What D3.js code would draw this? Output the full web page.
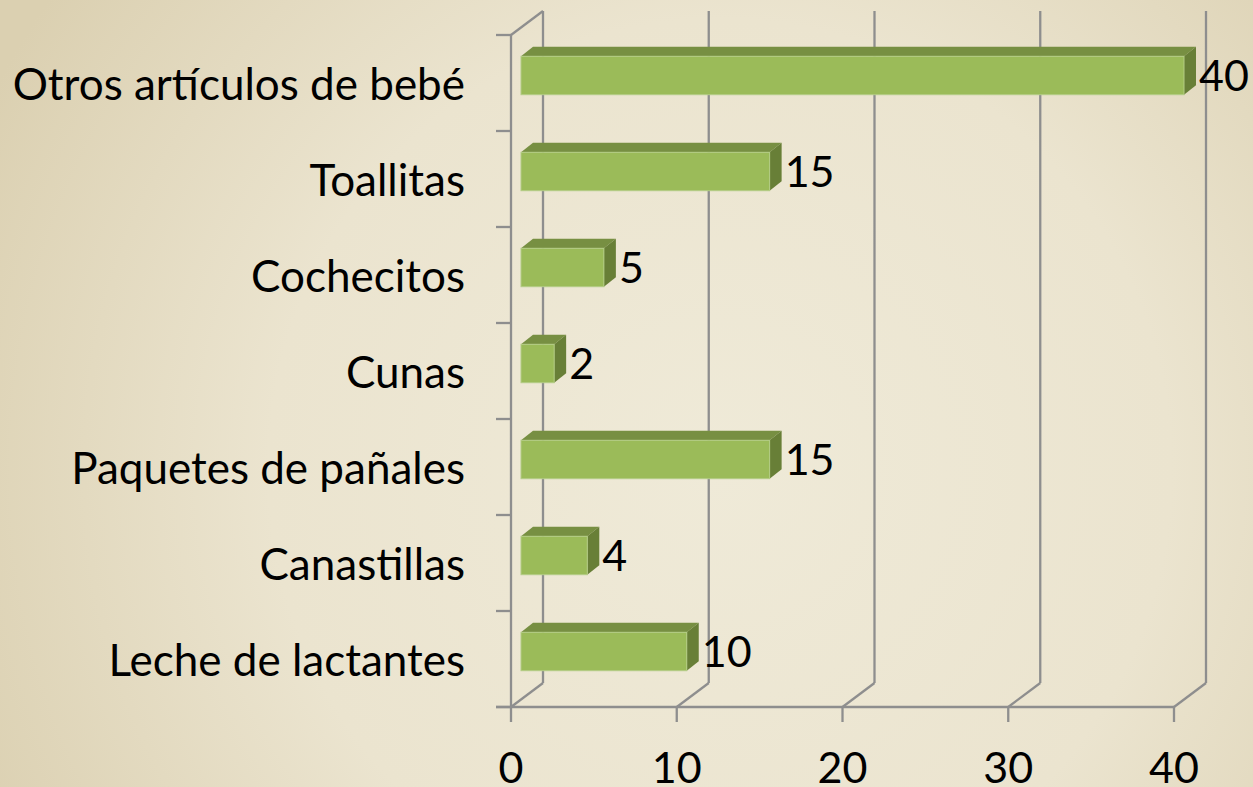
<!DOCTYPE html>
<html>
<head>
<meta charset="utf-8">
<script src="https://cdn.jsdelivr.net/npm/d3@7"></script>
<style>
  html, body { margin: 0; padding: 0; overflow: hidden; }
  #chart { width: 1253px; height: 787px; }
</style>
</head>
<body>
<div id="chart"></div>
<script>
// data, bottom to top as in the source chart
const categories = ["Leche de lactantes", "Canastillas", "Paquetes de pañales", "Cunas", "Cochecitos", "Toallitas", "Otros artículos de bebé"];
const values = [10, 4, 15, 2, 5, 15, 40];
const xTicks = [0, 10, 20, 30, 40];

const W = 1253, H = 787;
const FONT = "Lato, 'Open Sans', sans-serif";

// wall depth (3d offset of the back plane)
const depth = { dx: 32, dy: -24 };
// bar sits in the middle of the depth
const barOff = { dx: 10, dy: -7.5 };
const barDepth = { dx: 12, dy: -9.5 };

const svg = d3.select("#chart").append("svg")
  .attr("width", W)
  .attr("height", H);

// background
const defs = svg.append("defs");
const bg = defs.append("radialGradient")
  .attr("id", "bg")
  .attr("gradientUnits", "userSpaceOnUse")
  .attr("cx", 720).attr("cy", 470).attr("r", 820);
bg.append("stop").attr("offset", "0%").attr("stop-color", "#efead8");
bg.append("stop").attr("offset", "55%").attr("stop-color", "#ebe4cf");
bg.append("stop").attr("offset", "100%").attr("stop-color", "#dbd0b1");
svg.append("rect").attr("width", W).attr("height", H).attr("fill", "url(#bg)");

const x = d3.scaleLinear().domain([0, 40]).range([511, 1174]);
const y = d3.scaleBand()
  .domain(categories.slice().reverse())
  .range([35, 707])
  .paddingInner(0).paddingOuter(0);

const yTop = y.range()[0], yBot = y.range()[1];
const gridColor = "#8e8e8e";
const gw = 2.3;

const grid = svg.append("g")
  .attr("stroke", gridColor)
  .attr("stroke-width", gw)
  .attr("fill", "none");

// back wall gridlines + floor diagonals
xTicks.forEach(t => {
  grid.append("line")
    .attr("x1", x(t) + depth.dx).attr("y1", yBot + depth.dy)
    .attr("x2", x(t) + depth.dx).attr("y2", yTop + depth.dy);
  grid.append("line")
    .attr("x1", x(t)).attr("y1", yBot)
    .attr("x2", x(t) + depth.dx).attr("y2", yBot + depth.dy);
  // tick mark below
  grid.append("line")
    .attr("x1", x(t)).attr("y1", yBot)
    .attr("x2", x(t)).attr("y2", yBot + 15);
});

// side wall top edge
grid.append("line")
  .attr("x1", x(0)).attr("y1", yTop)
  .attr("x2", x(0) + depth.dx).attr("y2", yTop + depth.dy);

// front axes
grid.append("line")
  .attr("x1", x(0)).attr("y1", yTop)
  .attr("x2", x(0)).attr("y2", yBot);
grid.append("line")
  .attr("x1", x(0) - 15).attr("y1", yBot)
  .attr("x2", x(40)).attr("y2", yBot);

// category ticks on the left
const bounds = categories.map(c => y(c)).concat([yBot]);
bounds.forEach(b => {
  grid.append("line")
    .attr("x1", x(0) - 15).attr("y1", b)
    .attr("x2", x(0)).attr("y2", b);
});

// bars
const barH = y.bandwidth() * 0.4;
const bars = svg.selectAll("g.bar")
  .data(categories.map((c, i) => ({ cat: c, val: values[i] })))
  .enter()
  .append("g")
  .attr("class", "bar");

bars.each(function (d) {
  const g = d3.select(this);
  const cy = y(d.cat) + y.bandwidth() / 2 + barOff.dy;
  const x0 = x(0) + barOff.dx, x1 = x(d.val) + barOff.dx;
  const t = cy - barH / 2, b = cy + barH / 2;
  const ddx = barDepth.dx, ddy = barDepth.dy;

  // top face
  g.append("path")
    .attr("d", `M${x0},${t} L${x0 + ddx},${t + ddy} L${x1 + ddx},${t + ddy} L${x1},${t} Z`)
    .attr("fill", "#778f42");
  // side face
  g.append("path")
    .attr("d", `M${x1},${t} L${x1 + ddx},${t + ddy} L${x1 + ddx},${b + ddy} L${x1},${b} Z`)
    .attr("fill", "#687f37");
  // front face
  g.append("rect")
    .attr("x", x0).attr("y", t)
    .attr("width", x1 - x0).attr("height", b - t)
    .attr("fill", "#9bbb59")
    .attr("stroke", "#b3cc85")
    .attr("stroke-width", 1);

  // value label
  g.append("text")
    .attr("x", x1 + ddx + 3)
    .attr("y", cy + 15)
    .attr("font-family", FONT)
    .attr("font-size", 43)
    .attr("fill", "#000")
    .text(d.val);
});

// category labels
svg.append("g")
  .selectAll("text")
  .data(categories)
  .enter()
  .append("text")
  .attr("x", 465)
  .attr("y", d => y(d) + y.bandwidth() / 2 + 17)
  .attr("text-anchor", "end")
  .attr("font-family", FONT)
  .attr("font-size", 44)
  .attr("fill", "#000")
  .text(d => d);

// x tick labels (cut at the bottom edge, as in the source)
svg.append("g")
  .selectAll("text")
  .data(xTicks)
  .enter()
  .append("text")
  .attr("x", d => x(d))
  .attr("y", 783)
  .attr("text-anchor", "middle")
  .attr("font-family", FONT)
  .attr("font-size", 43)
  .attr("fill", "#000")
  .text(d => d);
</script>
</body>
</html>
